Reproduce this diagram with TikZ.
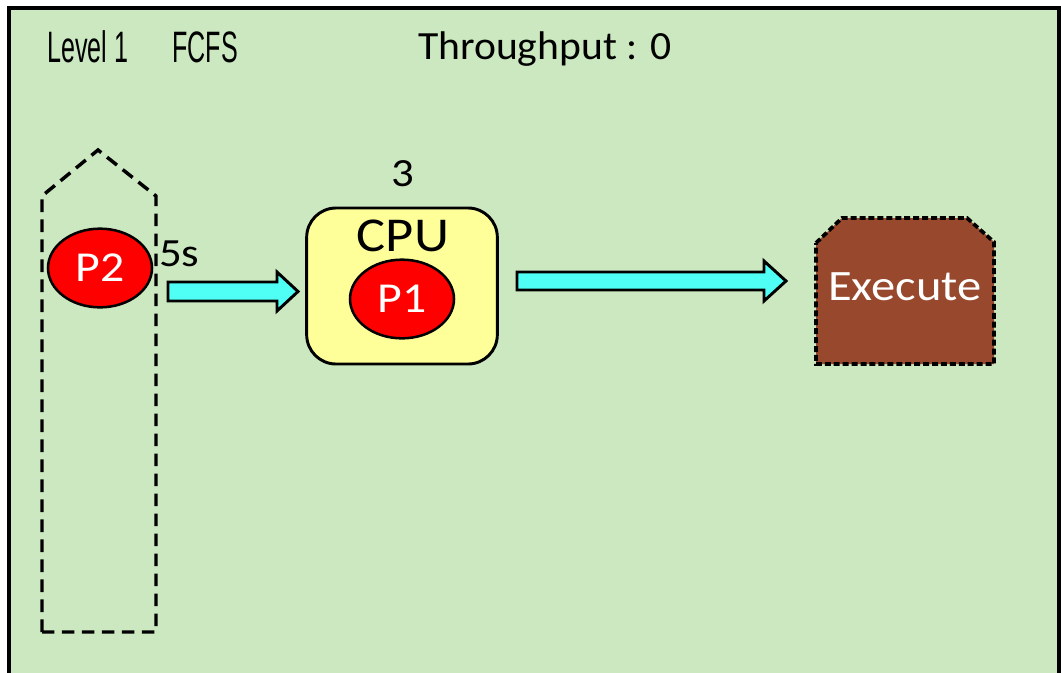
\documentclass[tikz,border=0pt]{standalone}
\usepackage{fontspec}
\setmainfont{Carlito}
\newfontfamily\agency[FakeStretch=0.57]{Liberation Sans}
\newfontfamily\wide[FakeStretch=1.12]{Carlito}
\newfontfamily\thr[FakeStretch=1.04]{Carlito}
\definecolor{bggreen}{RGB}{204,232,192}
\definecolor{cpuyellow}{RGB}{255,255,153}
\definecolor{arrowcyan}{RGB}{79,255,245}
\definecolor{procred}{RGB}{255,0,0}
\definecolor{execbrown}{RGB}{152,72,45}
\tikzset{
  proc/.style={ellipse, draw=black, line width=1.9pt, fill=procred, text=white,
    minimum width=78pt, minimum height=59pt, inner sep=0pt,
    font=\wide\fontsize{32}{32}\selectfont},
  blockarrow/.style={draw=black, line width=2.2pt, fill=arrowcyan, line join=miter},
  queuebox/.style={draw=black, line width=2.6pt, dash pattern=on 9.5pt off 5.5pt},
  execbox/.style={draw=black, line width=2.8pt, fill=execbrown, dash pattern=on 4.5pt off 2.2pt},
  header/.style={anchor=base west, inner sep=0pt, font=\agency\fontsize{33}{33}\selectfont},
}
\usetikzlibrary{shapes.geometric}
\begin{document}
\begin{tikzpicture}[x=0.75pt,y=-0.75pt]
\useasboundingbox (0,0) rectangle (1061,672);
\fill[white] (0,0) rectangle (1061,672);
\draw[line width=3pt, fill=bggreen] (8.5,7.5) rectangle (1059,700);
% headers
\node[header] (level) at (47,62) {Level 1};
\node[header] (algo) at (172,62) {FCFS};
\node[anchor=base west, inner sep=0pt, font=\thr\fontsize{30}{30}\selectfont] (thr) at (418,59) {Throughput : 0};
% queue
\coordinate (qapex) at (98,150);
\draw[queuebox] (42,632) -- (42,196) -- (qapex) -- (156,196) -- (156,632) -- cycle;
\node[proc] (p2) at (100,268) {P2};
\node[anchor=base west, inner sep=0pt, font=\wide\fontsize{30}{30}\selectfont] (q) at (159,266.5) {5s};
% CPU
\node[draw=black, line width=2.2pt, fill=cpuyellow, rounded corners=22pt, minimum width=143pt, minimum height=117pt] (cpu) at (402,286) {};
\node[anchor=base, inner sep=0pt, font=\wide\fontsize{36.5}{36.5}\selectfont] (cpulabel) at (403,251) {CPU};
\node[anchor=base, inner sep=0pt, font=\wide\fontsize{30}{30}\selectfont] (burst) at (403,186) {3};
\node[proc] (p1) at (402,299) {P1};
% Execute
\path[execbox] (816,243) -- (842,218) -- (967,218) -- (994,242) -- (994,364) -- (816,364) -- cycle;
\node[text=white, anchor=base, inner sep=0pt, font=\wide\fontsize{32.5}{32.5}\selectfont] (execlabel) at (905,300) {Execute};
% arrows
\draw[blockarrow] (168,282) -- (277,282) -- (277,272) -- (298,291.5) -- (277,311) -- (277,301) -- (168,301) -- cycle;
\draw[blockarrow] (517,272) -- (764,272) -- (764,261) -- (786,281) -- (764,301) -- (764,290) -- (517,290) -- cycle;
\end{tikzpicture}
\end{document}
